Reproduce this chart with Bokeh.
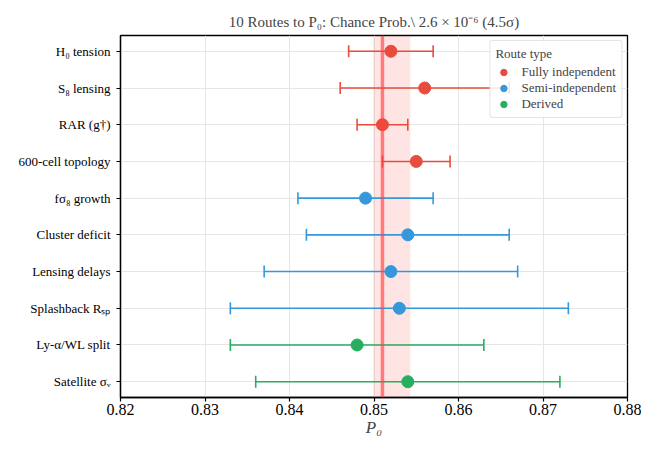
from bokeh.plotting import figure
from bokeh.models import (ColumnDataSource, Whisker, TeeHead, Span, BoxAnnotation,
                          Range1d, FixedTicker, Legend, LegendItem)
from bokeh.embed import file_html
from bokeh.resources import INLINE

routes = ["H\u2080 tension", "S\u2088 lensing", "RAR (g\u2020)", "600-cell topology",
          "f\u03c3\u2088 growth", "Cluster deficit", "Lensing delays",
          "Splashback R\u209b\u209a", "Ly-\u03b1/WL split", "Satellite \u03c3\u1d65"]
p0_vals = [0.852, 0.856, 0.851, 0.855, 0.849, 0.854, 0.852, 0.853, 0.848, 0.854]
lo_vals = [0.847, 0.846, 0.848, 0.851, 0.841, 0.842, 0.837, 0.833, 0.833, 0.836]
hi_vals = [0.857, 0.866, 0.854, 0.859, 0.857, 0.866, 0.867, 0.873, 0.863, 0.872]
route_type = ["Fully independent"] * 4 + ["Semi-independent"] * 4 + ["Derived"] * 2
type_names = ["Fully independent", "Semi-independent", "Derived"]
type_colors = {"Fully independent": "#e74c3c", "Semi-independent": "#3498db", "Derived": "#27ae60"}
p0_center = 0.851
p0_band = (0.8499, 0.8543)
x_ticks = [0.82, 0.83, 0.84, 0.85, 0.86, 0.87, 0.88]

FONT = "Liberation Serif"
n = len(routes)
ypos = [n - 1 - i for i in range(n)]

p = figure(width=641, height=439, output_backend="svg", toolbar_location=None,
           x_range=Range1d(0.82, 0.88), y_range=Range1d(-0.43, n - 1 + 0.43),
           min_border_left=120, min_border_right=14, min_border_top=35, min_border_bottom=36)

p.title.text = "10 Routes to P\u2080: Chance Prob.\\ 2.6 \u00d7 10\u207b\u2076 (4.5\u03c3)"
p.title.align = "center"
p.title.vertical_align = "middle"
p.title.text_font = FONT
p.title.text_font_size = "15px"
p.title.text_font_style = "normal"
p.title.offset = 0

band = BoxAnnotation(left=p0_band[0], right=p0_band[1], fill_color="#ff6b6b",
                     fill_alpha=0.18, line_alpha=0, level="underlay")
p.add_layout(band)
span = Span(location=p0_center, dimension="height", line_color="#ff4040",
            line_alpha=0.65, line_width=3.5)
p.add_layout(span)

items = []
for t in type_names:
    idx = [i for i in range(n) if route_type[i] == t]
    src = ColumnDataSource(dict(y=[ypos[i] for i in idx], x=[p0_vals[i] for i in idx],
                                lo=[lo_vals[i] for i in idx], hi=[hi_vals[i] for i in idx]))
    c = type_colors[t]
    w = Whisker(source=src, base="y", lower="lo", upper="hi", dimension="width",
                line_color=c, line_width=1.6,
                lower_head=TeeHead(size=12, line_color=c, line_width=1.6),
                upper_head=TeeHead(size=12, line_color=c, line_width=1.6))
    p.add_layout(w)
    r = p.scatter("x", "y", source=src, size=12, fill_color=c, line_color=c)
    items.append(LegendItem(label=t, renderers=[r]))

legend = Legend(items=items, location="top_right", title="Route type")
legend.title_text_font = FONT
legend.title_text_font_size = "13px"
legend.title_text_font_style = "normal"
legend.label_text_font = FONT
legend.label_text_font_size = "13px"
legend.border_line_color = "#cccccc"
legend.border_line_width = 1.5
legend.border_radius = 3
legend.background_fill_alpha = 0.85
legend.glyph_width = 16
legend.glyph_height = 16
legend.spacing = 0
legend.padding = 5
legend.margin = 5
legend.label_height = 14
legend.label_standoff = 10
legend.title_standoff = 2
p.add_layout(legend)

p.yaxis.ticker = FixedTicker(ticks=ypos)
p.yaxis.major_label_overrides = {ypos[i]: routes[i] for i in range(n)}
p.xaxis.ticker = FixedTicker(ticks=x_ticks)
p.xaxis.major_label_overrides = {v: f"{v:.2f}" for v in x_ticks}
p.yaxis.minor_tick_line_color = None
p.xaxis.minor_tick_line_color = None
for ax in (p.xaxis, p.yaxis):
    ax.axis_line_color = "black"
    ax.axis_line_width = 1.3
    ax.major_tick_line_color = "black"
    ax.major_tick_line_width = 1.2
    ax.major_tick_out = 4
    ax.major_tick_in = 0
    ax.major_label_text_font = FONT
    ax.major_label_text_color = "black"
p.xaxis.major_label_text_font_size = "16px"
p.yaxis.major_label_text_font_size = "13px"
p.yaxis.major_label_standoff = 6
p.xaxis.major_label_standoff = 2
p.xaxis.axis_label = "P\u2080"
p.xaxis.axis_label_text_font = FONT
p.xaxis.axis_label_text_font_size = "17px"
p.xaxis.axis_label_text_font_style = "italic"
p.xaxis.axis_label_standoff = 0

p.outline_line_color = "black"
p.outline_line_width = 1.3
p.outline_line_alpha = 1
p.xgrid.grid_line_color = "#e6e6e6"
p.ygrid.grid_line_color = "#e6e6e6"
p.xgrid.grid_line_width = 1
p.ygrid.grid_line_width = 1

open("out.html", "w").write(file_html(p, INLINE))
